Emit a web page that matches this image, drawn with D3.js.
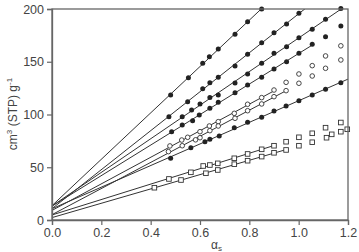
<!DOCTYPE html>
<html><head><meta charset="utf-8">
<script src="https://cdn.jsdelivr.net/npm/d3@7"></script>
<style>html,body{margin:0;padding:0;background:#fff;}svg{display:block;}</style>
</head><body>
<svg id="c" width="359" height="252"></svg>
<script>
// Series: x (alpha_s) and adsorbed volume (cm3 STP/g). "Off" = points beyond the fitted line.
const aX = [0.481,0.553,0.611,0.638,0.674,0.742,0.793,0.85];
const aY = [118.5,134.9,148.6,154.8,162.1,176,188,200];
const bX = [0.474,0.55,0.611,0.64,0.674,0.742,0.793,0.85,0.9,0.951,1.001];
const bY = [97.9,112.2,124.5,130,135.3,146,157,168.1,177.6,185.8,196];
const cX = [0.528,0.566,0.6,0.64,0.674,0.742,0.793,0.85,0.9,0.951,1.001,1.055,1.109,1.171];
const cY = [97.9,104.3,110,116,118.6,129.8,138.3,148.6,158,164.3,172.8,180.8,190.3,200.5];
const dX = [0.485,0.528,0.57,0.597,0.64,0.674,0.742,0.793,0.85,0.9,0.951,1.001,1.055];
const dY = [83.7,90,94.1,99.5,106,111.6,120.5,128,135.3,143.2,150.1,158,166.6];
const dOffX = [1.109,1.171];
const dOffY = [173.8,183.9];
const e1X = [0.478,0.526,0.55,0.6,0.638,0.674,0.739,0.793,0.85,0.9];
const e1Y = [70.2,75.8,78.4,83.7,89.1,93.2,101.1,109.7,116,123.2];
const e1OffX = [0.949,1.001,1.055,1.109,1.171];
const e1OffY = [130.5,138.4,146.3,155.5,165.1];
const e2X = [0.472,0.528,0.582,0.6,0.64,0.674,0.742,0.793,0.85,0.9,0.949];
const e2Y = [64.8,70.4,76,78,84.7,89.1,96.4,103.6,110,116.9,122.6];
const e2OffX = [1.001,1.055,1.109,1.171];
const e2OffY = [129.6,136.5,143.8,151.7];
const fX = [0.481,0.563,0.62,0.64,0.678,0.739,0.793,0.85,0.9,0.949,1.001,1.055,1.109,1.171];
const fY = [58.5,68.6,74.2,76.5,79.6,87.5,92.6,97.4,103.3,108.1,113.1,118.5,123.9,130];
const g1X = [0.474,0.563,0.613,0.64,0.672,0.739,0.793,0.85,0.9];
const g1Y = [38.9,45.2,51.2,52.1,53.7,58.5,62.6,67,70.4];
const g1OffX = [0.949,1.001,1.055,1.109,1.171];
const g1OffY = [74.2,78.4,82.2,87.5,92.4];
const g2X = [0.415,0.523,0.624,0.672,0.739,0.793,0.85,0.9,0.949];
const g2Y = [30.6,37.9,44.3,47.4,52.9,56.2,60.1,63.7,66.4];
const g2OffX = [1.001,1.055,1.113,1.134,1.171,1.197];
const g2OffY = [70.4,73.7,78,81.2,83.7,86];
// line end (x) for each fitted line
const seriesNames = ["A","B","C","D","E1","E2","F","G1","G2"];
const lineEnd = [1.2,1.2,1.2,1.055,0.9,0.949,1.2,0.9,0.949];

const xTicks = [0,0.2,0.4,0.6,0.8,1.0,1.2];
const yTicks = [0,50,100,150,200];

const svg = d3.select("#c");
const L=52, R=348, T=9, B=220;
const x = d3.scaleLinear().domain([0,1.2]).range([L,R]);
const y = d3.scaleLinear().domain([0,200]).range([B,T]);

svg.append("defs").append("clipPath").attr("id","clip")
  .append("rect").attr("x",L).attr("y",T).attr("width",R-L).attr("height",B-T);

const lin = [
 {x:aX,y:aY,m:"fill"},{x:bX,y:bY,m:"fill"},{x:cX,y:cY,m:"fill"},{x:dX,y:dY,m:"fill"},
 {x:e1X,y:e1Y,m:"open"},{x:e2X,y:e2Y,m:"open"},{x:fX,y:fY,m:"fill"},
 {x:g1X,y:g1Y,m:"sq"},{x:g2X,y:g2Y,m:"sq"}
];
const off = [
 {x:dOffX,y:dOffY,m:"fill"},{x:e1OffX,y:e1OffY,m:"open"},{x:e2OffX,y:e2OffY,m:"open"},
 {x:g1OffX,y:g1OffY,m:"sq"},{x:g2OffX,y:g2OffY,m:"sq"}
];

function fit(xs,ys){
  const n=xs.length, mx=d3.mean(xs), my=d3.mean(ys);
  let sxy=0,sxx=0;
  for(let i=0;i<n;i++){sxy+=(xs[i]-mx)*(ys[i]-my);sxx+=(xs[i]-mx)**2;}
  const b=sxy/sxx; return {a:my-b*mx,b:b};
}

const gl = svg.append("g").attr("clip-path","url(#clip)");
lin.forEach((s,i)=>{
  const f=fit(s.x,s.y);
  const xe=lineEnd[i];
  gl.append("line").attr("x1",x(0)).attr("y1",y(f.a)).attr("x2",x(xe)).attr("y2",y(f.a+f.b*xe))
    .attr("stroke","#333").attr("stroke-width",1);
});

function drawPts(s){
  const pts=s.x.map((v,i)=>[v,s.y[i]]);
  const g=svg.append("g");
  if(s.m==="fill"){
    g.selectAll("circle").data(pts).join("circle").attr("cx",d=>x(d[0])).attr("cy",d=>y(d[1]))
      .attr("r",2.5).attr("fill","#222");
  } else if(s.m==="open"){
    g.selectAll("circle").data(pts).join("circle").attr("cx",d=>x(d[0])).attr("cy",d=>y(d[1]))
      .attr("r",2.3).attr("fill","#fff").attr("stroke","#333").attr("stroke-width",0.9);
  } else {
    g.selectAll("rect").data(pts).join("rect").attr("x",d=>x(d[0])-2.3).attr("y",d=>y(d[1])-2.3)
      .attr("width",4.6).attr("height",4.6).attr("fill","#fff").attr("stroke","#333").attr("stroke-width",0.9);
  }
}
lin.forEach(drawPts);
off.forEach(drawPts);

// frame
svg.append("rect").attr("x",L).attr("y",T).attr("width",R-L).attr("height",B-T)
  .attr("fill","none").attr("stroke","#666").attr("stroke-width",1.3);

const font="'Liberation Sans', Arial, sans-serif";
const xa = svg.append("g").attr("transform",`translate(0,${B})`)
  .call(d3.axisBottom(x).tickValues(xTicks).tickFormat(d3.format(".1f")).tickSize(5).tickPadding(3));
const ya = svg.append("g").attr("transform",`translate(${L},0)`)
  .call(d3.axisLeft(y).tickValues(yTicks).tickSize(5).tickPadding(3));
[xa,ya].forEach(a=>{
  a.select(".domain").attr("stroke","#666").attr("stroke-width",1.3);
  a.selectAll(".tick line").attr("stroke","#666").attr("stroke-width",1.2);
  a.selectAll("text").attr("font-family",font).attr("font-size",12.5).attr("fill","#444");
});

// axis titles
const yt = svg.append("text").attr("transform","translate(17,114) rotate(-90)")
  .attr("text-anchor","middle").attr("font-family",font).attr("font-size",12).attr("fill","#444");
yt.append("tspan").text("cm");
yt.append("tspan").attr("font-size",8).attr("dy",-5).text("3");
yt.append("tspan").attr("dy",5).text(" (STP) g");
yt.append("tspan").attr("font-size",8).attr("dy",-5).text("-1");

const xt = svg.append("text").attr("x",211).attr("y",249).attr("font-family",font)
  .attr("font-size",12).attr("fill","#444");
xt.append("tspan").text("α");
xt.append("tspan").attr("font-size",8).attr("dy",1.5).text("s");
</script>
</body></html>
